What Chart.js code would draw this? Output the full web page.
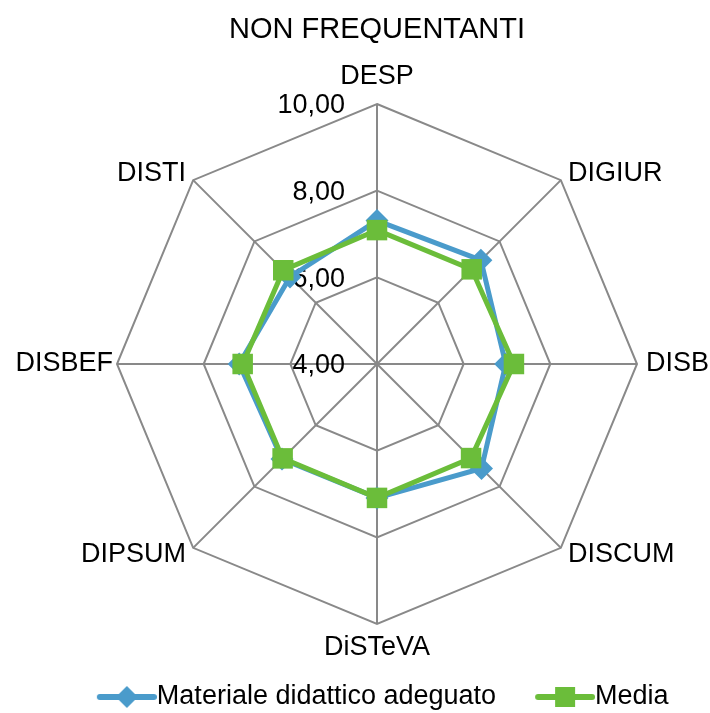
<!DOCTYPE html>
<html>
<head>
<meta charset="utf-8">
<script src="https://cdn.jsdelivr.net/npm/chart.js@4"></script>
<style>
  html, body { margin: 0; padding: 0; background: #fff; }
  #wrap { width: 710px; height: 713px; }
</style>
</head>
<body>
<div id="wrap"><canvas id="radarChart"></canvas></div>
<script>
const categories = ['DESP', 'DIGIUR', 'DISB', 'DISCUM', 'DiSTeVA', 'DIPSUM', 'DISBEF', 'DISTI'];
const materiale = [7.31, 7.39, 6.97, 7.41, 7.09, 7.10, 7.18, 6.84];
const media = [7.09, 7.09, 7.16, 7.07, 7.09, 7.08, 7.10, 7.06];
const seriesNames = ['Materiale didattico adeguato', 'Media'];
const tickValues = [4, 6, 8, 10];

const BLUE = '#4a9bcb';
const GREEN = '#6bbd3a';
const FONT = '"Liberation Sans", Arial, sans-serif';
const FONT_SIZE = 27;
const LEGEND_BOX = 58;

// legend icon: line that runs up to the text, marker in the middle
function legendIcon(color, marker) {
    const c = document.createElement('canvas');
    c.width = LEGEND_BOX + FONT_SIZE;
    c.height = 24;
    const end = c.width;
    const mid = end - 30;
    const g = c.getContext('2d');
    g.strokeStyle = color;
    g.lineWidth = 6;
    g.lineCap = 'round';
    g.beginPath();
    g.moveTo(end - 57, 12);
    g.lineTo(end - 3, 12);
    g.stroke();
    g.fillStyle = color;
    g.beginPath();
    if (marker === 'diamond') {
        g.moveTo(mid, 1);
        g.lineTo(mid + 11, 12);
        g.lineTo(mid, 23);
        g.lineTo(mid - 11, 12);
    } else {
        g.rect(mid - 10, 2, 20, 20);
    }
    g.closePath();
    g.fill();
    return c;
}

// distance of each category label from the outer ring
const labelPadding = [27, 10, 9, 10, 24, 10, 4, 10];

// excel style labels: category names outside the web, values left of the axis
const excelLabels = {
    id: 'excelLabels',
    beforeDatasetsDraw(chart) {
        const scale = chart.scales.r;
        const ctx = chart.ctx;
        ctx.save();
        ctx.font = FONT_SIZE + 'px ' + FONT;
        ctx.fillStyle = '#000';
        ctx.textBaseline = 'middle';

        ctx.textAlign = 'right';
        tickValues.forEach(v => {
            const y = scale.yCenter - scale.getDistanceFromCenterForValue(v);
            ctx.fillText(v.toFixed(2).replace('.', ','), scale.xCenter - 32, y + 2);
        });

        categories.forEach((name, i) => {
            const p = scale.getPointPosition(i, scale.drawingArea + labelPadding[i]);
            const dx = p.x - scale.xCenter;
            ctx.textAlign = Math.abs(dx) < 1 ? 'center' : (dx > 0 ? 'left' : 'right');
            ctx.fillText(name, p.x, p.y);
        });
        ctx.restore();
    }
};

const icons = [legendIcon(BLUE, 'diamond'), legendIcon(GREEN, 'square')];

new Chart(document.getElementById('radarChart'), {
    type: 'radar',
    data: {
        labels: categories,
        datasets: [
            {
                label: seriesNames[0],
                data: materiale,
                borderColor: BLUE,
                backgroundColor: BLUE,
                borderWidth: 5,
                fill: false,
                pointStyle: 'rectRot',
                pointRadius: 11.5,
                pointBorderWidth: 0,
                pointBackgroundColor: BLUE,
                order: 2
            },
            {
                label: seriesNames[1],
                data: media,
                borderColor: GREEN,
                backgroundColor: GREEN,
                borderWidth: 5,
                fill: false,
                pointStyle: 'rect',
                pointRadius: 14.5,
                pointBorderWidth: 0,
                pointBackgroundColor: GREEN,
                order: 1
            }
        ]
    },
    options: {
        responsive: true,
        maintainAspectRatio: false,
        animation: false,
        layout: { padding: { left: 44, right: 0, top: 0, bottom: 0 } },
        plugins: {
            title: {
                display: true,
                text: 'NON FREQUENTANTI',
                color: '#000',
                font: { family: FONT, size: 29, weight: 'normal', lineHeight: 1 },
                padding: { top: 15.5, bottom: 59.5 }
            },
            legend: {
                position: 'bottom',
                maxHeight: 89,
                title: {
                    display: true,
                    text: '',
                    font: { size: 10 },
                    padding: { top: 0, bottom: 20 }
                },
                labels: {
                    usePointStyle: true,
                    pointStyleWidth: LEGEND_BOX,
                    padding: 27.5,
                    color: '#000',
                    font: { family: FONT, size: FONT_SIZE },
                    generateLabels: () => seriesNames.map((name, i) => ({
                        text: name,
                        fontColor: '#000',
                        pointStyle: icons[i],
                        fillStyle: 'transparent',
                        strokeStyle: 'transparent',
                        lineWidth: 0,
                        datasetIndex: i,
                        hidden: false
                    }))
                }
            },
            tooltip: { enabled: false }
        },
        scales: {
            r: {
                min: 4,
                max: 10,
                ticks: { stepSize: 2, display: false },
                grid: { color: '#898989', lineWidth: 2 },
                angleLines: { color: '#898989', lineWidth: 2 },
                pointLabels: { display: false }
            }
        }
    },
    plugins: [excelLabels]
});
</script>
</body>
</html>
